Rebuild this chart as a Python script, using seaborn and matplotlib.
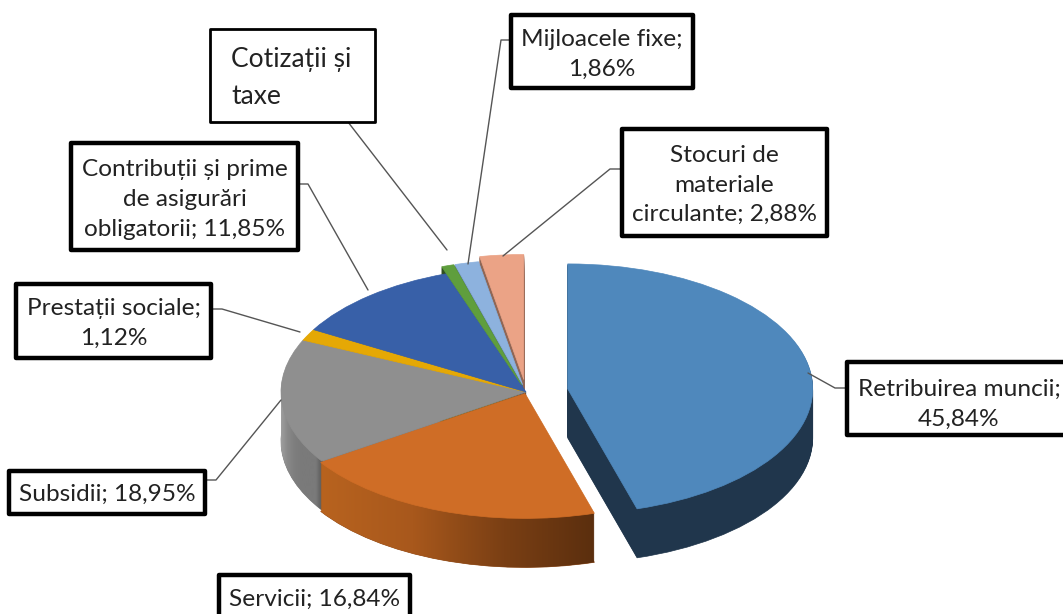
import numpy as np
import matplotlib
matplotlib.use('Agg')
import matplotlib.pyplot as plt
from matplotlib.colors import LinearSegmentedColormap
from matplotlib.patches import Rectangle
import seaborn as sns

# slice sizes as measured off the tilted pie, clockwise from 12 o'clock
# (they differ a bit from the printed percentages: the 3D view stretches the front slices)
shares = [45.4, 20.25, 16.1, 1.5, 11.4, 0.82, 1.58, 2.88]
explode = [0.172, 0.012, 0.0, 0.0, 0.0, 0.06, 0.06, 0.1]
top_colors = ['#4f88bc', '#cf6d26', '#8f8f8f', '#e5a805', '#3860a8', '#5f9e3d', '#8db2de', '#eba386']
wall_colors = ['#20364c', '#8f4a18', '#808080', '#6f5a10', '#1c2f55', '#2f4f1f', '#4f6a88', '#8f6655']

labels = ['Retribuirea muncii;\n45,84%', 'Servicii; 16,84%', 'Subsidii; 18,95%',
          'Prestații sociale;\n1,12%', 'Contribuții și prime\nde asigurări\nobligatorii; 11,85%',
          'Cotizații și\ntaxe', 'Mijloacele fixe;\n1,86%', 'Stocuri de\nmateriale\ncirculante; 2,88%']
# box left, top, right, bottom in picture pixels
boxes = [(847, 362, 1066, 435), (219, 575, 410, 620), (9, 471, 205, 514), (16, 284, 211, 358),
         (71, 143, 298, 250), (210, 29, 375, 122), (511, 15, 693, 88), (622, 129, 827, 236)]
leaders = [[(847, 388), (835, 388), (808, 373)], [], [(205, 480), (216, 480), (281, 400)],
           [(211, 309), (222, 309), (300, 332)], [(298, 184), (308, 184), (368, 290)], [(348, 122), (447, 250)],
           [(511, 40), (501, 40), (468, 264)], [(622, 169), (610, 169), (503, 256)]]
border_widths = [3.2, 3.2, 3.2, 3.2, 3.2, 2.0, 3.2, 3.2]
font_sizes = [17.6, 17.6, 17.6, 17.6, 17.6, 19, 17.6, 17.6]
text_shift = [6, 6, 2, 2.5, 3, 2, 2.5, 2.5]

W, H = 1063, 614
CX, CY = 526, 392  # pie centre in pixels
RX, RY = 245, 125  # pie radii in pixels
DEPTH = 49

sns.set_theme(style='white')
plt.rcParams['font.family'] = ['Lato', 'DejaVu Sans']

fig = plt.figure(figsize=(W / 100, H / 100), dpi=100)
ax = fig.add_axes([0, 0, 1, 1])

orange_cmap = LinearSegmentedColormap.from_list('o', ['#b8631f', '#a8581c', '#7a3f14', '#5a2e0e'])
grey_cmap = LinearSegmentedColormap.from_list('g', ['#a2a2a2', '#8a8a8a', '#7e7e7e', '#7a7a7a', '#7a7a7a', '#7a7a7a', '#555555'])
gradient = np.linspace(0, 1, 256).reshape(1, -1)


def to_x(px):
    return (px - CX) / RX


def to_y(py):
    return (CY - py) / RY


# stacked pies from the bottom up make the 3D side walls
for d in range(DEPTH, -1, -1):
    cols = top_colors if d == 0 else wall_colors
    wedges, _ = ax.pie(shares, explode=explode, colors=cols, startangle=90, counterclock=False,
                       center=(0, -d / RY), radius=1)
    for w, c in zip(wedges, cols):
        w.set_zorder(10 + DEPTH - d)
        w.set_edgecolor(c)
        w.set_linewidth(0.5)
    if d > 0:
        for idx, cmap, x0, x1 in [(1, orange_cmap, 320, 597), (2, grey_cmap, 280, 323)]:
            if d < DEPTH:
                # only the image shows on the inner layers, otherwise the wedge edges make stripes
                wedges[idx].set_facecolor('none')
                wedges[idx].set_edgecolor('none')
            im = ax.imshow(gradient, cmap=cmap, aspect='auto', interpolation='bilinear',
                           zorder=10 + DEPTH - d + 0.5,
                           extent=(to_x(x0), to_x(x1), to_y(H), to_y(0)))
            im.set_clip_path(wedges[idx])

ax.set_aspect('auto')
ax.set_xlim(to_x(0), to_x(W))
ax.set_ylim(to_y(H), to_y(0))
ax.axis('off')

# labels and leader lines in pixel coordinates
over = fig.add_axes([0, 0, 1, 1], facecolor='none')
over.set_xlim(0, W)
over.set_ylim(H, 0)
over.axis('off')
for text, box, pts, lw, fs, dy in zip(labels, boxes, leaders, border_widths, font_sizes, text_shift):
    x0, y0, x1, y1 = box
    if pts:
        over.plot([p[0] for p in pts], [p[1] for p in pts], color='#555555', lw=1.0, zorder=1)
    over.add_patch(Rectangle((x0, y0), x1 - x0, y1 - y0, facecolor='white', edgecolor='black', linewidth=lw,
                             joinstyle='round', zorder=2))
    if fs == 19:
        over.text(x0 + 21, (y0 + y1) / 2 + dy, text, fontsize=fs, ha='left', va='center', color='#222222', linespacing=1.6, zorder=3)
    else:
        over.text((x0 + x1) / 2 if x1 < W else 959, (y0 + min(y1, 612)) / 2 + dy, text, fontsize=fs, ha='center', va='center',
                  color='#222222', linespacing=1.52, zorder=3)

fig.savefig('out.png', dpi=100)
